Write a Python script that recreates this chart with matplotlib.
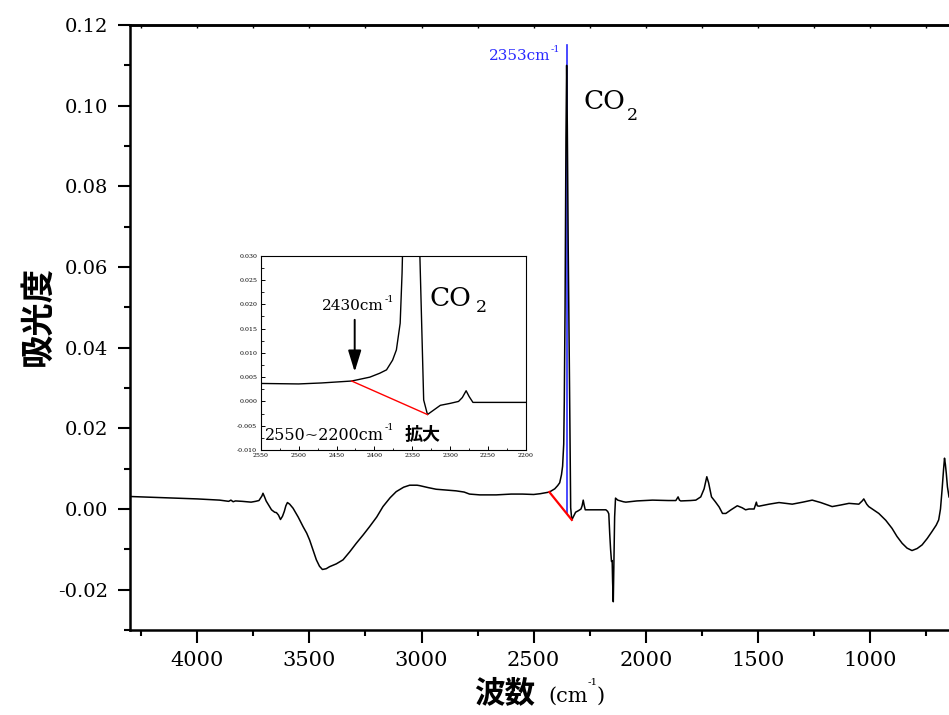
import numpy as np
import matplotlib
matplotlib.use("Agg")
import matplotlib.pyplot as plt
from matplotlib.ticker import FixedLocator, MultipleLocator, FormatStrFormatter

# ---------------- data ----------------
wavenumber = [
    4300, 4200, 4100, 4000, 3900, 3860, 3850, 3840, 3830, 3800, 3760, 3740, 3725,
    3712, 3707, 3700, 3693, 3680, 3669, 3655, 3647, 3638, 3629, 3620, 3612, 3605,
    3598, 3588, 3573, 3550, 3528, 3512, 3499, 3485, 3469, 3455, 3442, 3425, 3410,
    3380, 3350, 3320, 3291, 3260, 3232, 3200, 3172, 3140, 3113, 3080, 3053, 3020,
    3009, 2970, 2935, 2890, 2846, 2810, 2786, 2740, 2700, 2667, 2600, 2550, 2500,
    2470, 2430, 2406, 2393, 2384, 2376, 2371, 2366, 2363.5, 2360, 2356, 2353, 2350,
    2346, 2342, 2340, 2335, 2330, 2322, 2313, 2300, 2289, 2284, 2279, 2275, 2270,
    2260, 2230, 2200, 2178, 2170, 2165, 2161, 2157, 2153, 2150, 2148, 2145, 2142,
    2139, 2135, 2125, 2100, 2089, 2040, 1970, 1900, 1866, 1858, 1856, 1850, 1844,
    1800, 1777, 1755, 1740, 1728, 1720, 1707, 1690, 1673, 1658, 1643, 1620, 1592,
    1570, 1555, 1540, 1517, 1510, 1507, 1503, 1495, 1450, 1406, 1347, 1300, 1258,
    1220, 1169, 1130, 1094, 1050, 1035, 1028, 1015, 1006, 961, 930, 902, 880, 857,
    835, 813, 790, 768, 745, 724, 705, 694, 686, 679, 672, 668, 664, 660, 655, 648,
]
absorbance = [
    0.0031, 0.0029, 0.0027, 0.0025, 0.0022, 0.0019, 0.0022, 0.0018, 0.0020, 0.0019,
    0.0017, 0.0019, 0.0021, 0.0032, 0.0039, 0.0030, 0.0020, 0.0008, -0.0002, -0.0008,
    -0.0009, -0.0015, -0.0026, -0.0018, -0.0006, 0.0008, 0.0016, 0.0012, 0.0002,
    -0.0020, -0.0044, -0.0060, -0.0077, -0.0100, -0.0126, -0.0142, -0.0150, -0.0148,
    -0.0143, -0.0136, -0.0126, -0.0106, -0.0085, -0.0064, -0.0044, -0.0020, 0.0006,
    0.0028, 0.0043, 0.0054, 0.0059, 0.0059, 0.0058, 0.0053, 0.0049, 0.0047, 0.0045,
    0.0042, 0.0037, 0.0035, 0.0035, 0.0035, 0.0037, 0.0037, 0.0036, 0.0038, 0.0042,
    0.0050, 0.0058, 0.0065, 0.0085, 0.0106, 0.0161, 0.0264, 0.0500, 0.0920, 0.1100,
    0.0950, 0.0650, 0.0400, 0.0300, 0.0003, -0.0027, -0.0018, -0.0008, -0.0004,
    0.0000, 0.0008, 0.0022, 0.0010, -0.0002, -0.0002, -0.0002, -0.0002, -0.0002,
    -0.0006, -0.0012, -0.0060, -0.0100, -0.0130, -0.0128, -0.0180, -0.0230, -0.0120,
    -0.0020, 0.0027, 0.0022, 0.0018, 0.0017, 0.0020, 0.0022, 0.0021, 0.0021, 0.0028,
    0.0030, 0.0022, 0.0020, 0.0021, 0.0022, 0.0030, 0.0050, 0.0080, 0.0065, 0.0030,
    0.0018, 0.0005, -0.0011, -0.0011, -0.0002, 0.0008, 0.0003, -0.0002, 0.0000,
    0.0000, 0.0012, 0.0017, 0.0008, 0.0007, 0.0012, 0.0016, 0.0012, 0.0017, 0.0022,
    0.0016, 0.0006, 0.0010, 0.0014, 0.0012, 0.0020, 0.0025, 0.0012, 0.0006, -0.0011,
    -0.0028, -0.0048, -0.0068, -0.0085, -0.0097, -0.0103, -0.0098, -0.0089, -0.0073,
    -0.0056, -0.0040, -0.0027, 0.0000, 0.0047, 0.0100, 0.0126, 0.0110, 0.0088,
    0.0055, 0.0030,
]
baseline_x = [2430, 2330]
baseline_y = [0.0042, -0.0027]
peak_x = 2353
peak_top = 0.115

main_xticks = [4000, 3500, 3000, 2500, 2000, 1500, 1000]
main_yticks = [-0.02, 0.00, 0.02, 0.04, 0.06, 0.08, 0.10, 0.12]
inset_xticks = [2550, 2500, 2450, 2400, 2350, 2300, 2250, 2200]
inset_yticks = [-0.010, -0.005, 0.000, 0.005, 0.010, 0.015, 0.020, 0.025, 0.030]

# ---------------- style ----------------
plt.rcParams["font.family"] = "DejaVu Serif"
plt.rcParams["axes.unicode_minus"] = False
CJK = ["Noto Sans CJK JP", "DejaVu Sans"]
BLUE = "#2a2aff"
W, H = 949, 715

fig = plt.figure(figsize=(W / 100, H / 100), dpi=100)

# ---------------- main axes ----------------
ax = fig.add_axes([130 / W, 1 - 630 / H, (W - 130) / W, 605 / H])
ax.plot(wavenumber, absorbance, color="black", lw=1.1, zorder=3)
ax.plot(baseline_x, baseline_y, color="red", lw=1.6, zorder=4)
yb = np.interp(peak_x, baseline_x[::-1], baseline_y[::-1])
ax.plot([peak_x, peak_x], [yb, peak_top], color=BLUE, lw=1.2, zorder=2)

ax.set_xlim(4300, 648)
ax.set_ylim(-0.03, 0.12)
ax.spines["right"].set_visible(False)
for s in ["left", "bottom", "top"]:
    ax.spines[s].set_linewidth(1.8)
ax.xaxis.set_major_locator(FixedLocator(main_xticks))
ax.xaxis.set_minor_locator(MultipleLocator(250))
ax.yaxis.set_major_locator(FixedLocator(main_yticks))
ax.yaxis.set_minor_locator(MultipleLocator(0.01))
ax.yaxis.set_major_formatter(FormatStrFormatter("%.2f"))
ax.tick_params(which="major", direction="out", length=9, width=1.5)
ax.tick_params(which="minor", direction="out", length=4.5, width=1.5)
ax.tick_params(axis="x", which="major", labelsize=15, pad=6)
ax.tick_params(axis="y", which="major", labelsize=14, pad=7)
sec = ax.secondary_xaxis("top")
sec.xaxis.set_major_locator(MultipleLocator(250))
sec.tick_params(direction="in", length=2, width=1.0, labeltop=False)
sec.spines["top"].set_linewidth(1.8)

# annotations in main axes
ax.text(2279, 0.0991, "CO", fontsize=19, va="baseline", ha="left")
ax.text(2083, 0.0964, "2", fontsize=12.5, va="baseline", ha="left")
t_blue = ax.text(2426, 0.1113, "2353cm", color=BLUE, fontsize=11,
                 ha="right", va="baseline")
ax.annotate("-1", xy=(1, 1), xycoords=t_blue, xytext=(0.5, 3),
            textcoords="offset points", ha="left", va="top",
            fontsize=7, color=BLUE)

# axis labels
fig.text(38 / W, 1 - 316 / H, "吸光度", rotation=90, ha="center", va="center",
         fontsize=24, fontweight="bold", family=CJK)
fig.text(474 / W, 1 - 702 / H, "波数", ha="left", va="baseline",
         fontsize=22, fontweight="bold", family=CJK)
fig.text(548 / W, 1 - 702 / H, "(cm", ha="left", va="baseline", fontsize=15)
fig.text(588 / W, 1 - 678 / H, "-1", ha="left", va="top", fontsize=7.5)
fig.text(597 / W, 1 - 702 / H, ")", ha="left", va="baseline", fontsize=15)

# ---------------- inset axes ----------------
ins = fig.add_axes([260.7 / W, 1 - 450 / H, 265.3 / W, 194.3 / H])
ins.plot(wavenumber, absorbance, color="black", lw=1.0)
ins.plot(baseline_x, baseline_y, color="red", lw=1.0)
ins.set_xlim(2550, 2200)
ins.set_ylim(-0.010, 0.030)
for s in ins.spines.values():
    s.set_linewidth(0.8)
ins.xaxis.set_major_locator(FixedLocator(inset_xticks))
ins.xaxis.set_minor_locator(MultipleLocator(25))
ins.yaxis.set_major_locator(FixedLocator(inset_yticks))
ins.yaxis.set_minor_locator(MultipleLocator(0.0025))
ins.yaxis.set_major_formatter(FormatStrFormatter("%.3f"))
ins.xaxis.set_major_formatter(FormatStrFormatter("%d"))
ins.tick_params(which="major", direction="in", length=3, width=0.7,
                labelsize=4.5, pad=2.5)
ins.tick_params(which="minor", direction="in", length=1.8, width=0.6)

ins.text(2327, 0.0196, "CO", fontsize=19, va="baseline", ha="left")
ins.text(2266, 0.0184, "2", fontsize=12.5, va="baseline", ha="left")
t_2430 = ins.text(2469.5, 0.0188, "2430cm", fontsize=11, va="baseline", ha="left")
ins.annotate("-1", xy=(1, 1), xycoords=t_2430, xytext=(0.5, 3),
             textcoords="offset points", ha="left", va="top", fontsize=7)
ins.annotate("", xy=(2426, 0.0061), xytext=(2426, 0.0168),
             arrowprops=dict(arrowstyle="-|>,head_width=0.2,head_length=0.65",
                             mutation_scale=20, color="black", lw=1.4,
                             shrinkA=0, shrinkB=0))
t_rng = ins.text(2544, -0.0079, "2550~2200cm", fontsize=11.5, va="baseline", ha="left")
ins.annotate("-1", xy=(1, 1), xycoords=t_rng, xytext=(0.5, 3),
             textcoords="offset points", ha="left", va="top", fontsize=7)
ins.text(2359.6, -0.0079, "拡大", fontsize=13, va="baseline", ha="left",
         family=CJK, fontweight="bold")

fig.savefig("out.png", dpi=100)
